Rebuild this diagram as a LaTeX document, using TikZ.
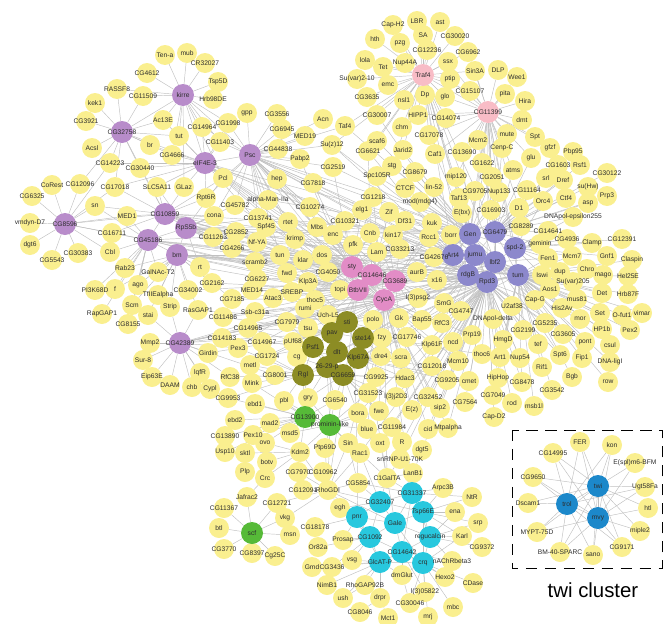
\documentclass[tikz,border=0pt]{standalone}
\usepackage{fontspec}
\setmainfont{Liberation Sans}
\usetikzlibrary{backgrounds}

\definecolor{geneyellow}{RGB}{250,239,143}
\definecolor{genetext}{RGB}{45,45,45}
\definecolor{edgegray}{RGB}{192,192,192}
\definecolor{hubpurple}{RGB}{184,140,202}
\definecolor{hubpink}{RGB}{248,188,198}
\definecolor{hubmagenta}{RGB}{226,140,198}
\definecolor{hubviolet}{RGB}{140,136,204}
\definecolor{hubolive}{RGB}{140,140,36}
\definecolor{hubgreen}{RGB}{86,186,56}
\definecolor{hubcyan}{RGB}{40,200,222}
\definecolor{hubblue}{RGB}{28,136,202}

\tikzset{
  gene/.style={circle, fill=geneyellow, minimum size=1cm, inner sep=0pt,
    text=genetext, font=\fontsize{9.5}{10}\selectfont,
    execute at begin node={\setbox0=\hbox\bgroup},
    execute at end node={\egroup\hbox to 0pt{\hss\box0\hss}}},
  hub/.style={minimum size=1.1cm},
  purplehub/.style={hub, fill=hubpurple},
  pinkhub/.style={hub, fill=hubpink},
  magentahub/.style={hub, fill=hubmagenta},
  violethub/.style={hub, fill=hubviolet},
  olivehub/.style={hub, fill=hubolive},
  greenhub/.style={hub, fill=hubgreen},
  cyanhub/.style={hub, fill=hubcyan},
  bluehub/.style={hub, fill=hubblue},
}

% all genes of the network, drawn twice: discs first, names on top
\newcommand{\allgenes}{%
    \node (Tena) at (165,55) {Ten-a}; \node (mub) at (187,53) {mub}; \node (CR32027) at (205,63) {CR32027};
    \node (CG4612) at (147,73) {CG4612}; \node (Tsp5D) at (218,82) {Tsp5D}; \node (Hrb98DE) at (213,99) {Hrb98DE};
    \node (RASSF8) at (117,89) {RASSF8}; \node (CG11509) at (143,96) {CG11509}; \node (kek1) at (95,103) {kek1};
    \node (CG3921) at (86,121) {CG3921}; \node (Ac13E) at (163,120) {Ac13E}; \node (CG14964) at (202,127) {CG14964};
    \node (tut) at (179,136) {tut}; \node (Acsl) at (92,148) {Acsl}; \node (br) at (150,145) {br};
    \node (CG4666) at (172,155) {CG4666}; \node (CG14223) at (110,163) {CG14223}; \node (CG30440) at (140,168) {CG30440};
    \node (CoRest) at (52,185) {CoRest}; \node (CG12096) at (80,184) {CG12096}; \node (CG17018) at (115,187) {CG17018};
    \node (SLC5A11) at (157,187) {SLC5A11}; \node (GLaz) at (184,187) {GLaz}; \node (CG6325) at (32,196) {CG6325};
    \node (Rpt6R) at (206,198) {Rpt6R}; \node (sn) at (95,206) {sn}; \node (CG1998) at (228,123) {CG1998};
    \node (gpp) at (247,113) {gpp}; \node (CG3556) at (277,114) {CG3556}; \node (CG6945) at (282,129) {CG6945};
    \node (MED19) at (305,136) {MED19}; \node (Acn) at (323,119) {Acn}; \node (CG11403) at (220,142) {CG11403};
    \node (CG44838) at (278,149) {CG44838}; \node (Pabp2) at (300,159) {Pabp2}; \node (Pcl) at (223,178) {Pcl};
    \node (hep) at (277,179) {hep}; \node (CG7818) at (313,183) {CG7818}; \node (alphaManIIa) at (268,200) {alpha-Man-IIa};
    \node (CG45782) at (235,205) {CG45782}; \node (CG10274) at (310,207) {CG10274}; \node (cona) at (214,216) {cona};
    \node (CG13741) at (258,218) {CG13741}; \node (rtet) at (288,222) {rtet}; \node (Spf45) at (266,227) {Spf45};
    \node (Mbs) at (317,227) {Mbs}; \node (MED1) at (127,216) {MED1}; \node (vmdynD7) at (30,223) {vmdyn-D7};
    \node (CG16711) at (112,233) {CG16711}; \node (CG11263) at (213,237) {CG11263}; \node (CG2852) at (236,232) {CG2852};
    \node (NfYA) at (257,242) {Nf-YA}; \node (dgt6) at (30,245) {dgt6}; \node (CG30383) at (78,253) {CG30383};
    \node (Cbl) at (110,252) {Cbl}; \node (CG5543) at (52,260) {CG5543}; \node (CG4266) at (232,248) {CG4266};
    \node (Rab23) at (125,268) {Rab23}; \node (GalNAcT2) at (158,272) {GalNAc-T2}; \node (rt) at (200,267) {rt};
    \node (scramb2) at (255,262) {scramb2}; \node (CG2162) at (212,283) {CG2162}; \node (CG6227) at (257,279) {CG6227};
    \node (ago) at (138,285) {ago}; \node (CG34002) at (188,290) {CG34002}; \node (PI3K68D) at (95,290) {PI3K68D};
    \node (f) at (115,289) {f}; \node (TfIIEalpha) at (158,295) {TfIIEalpha}; \node (MED14) at (252,290) {MED14};
    \node (CG7185) at (232,299) {CG7185}; \node (Scm) at (132,305) {Scm}; \node (Strip) at (170,307) {Strip};
    \node (RasGAP1) at (198,310) {RasGAP1}; \node (Ssb) at (255,312) {Ssb-c31a}; \node (RapGAP1) at (102,314) {RapGAP1};
    \node (stai) at (148,315) {stai}; \node (CG11486) at (223,317) {CG11486}; \node (CG8155) at (128,324) {CG8155};
    \node (CG14965) at (248,328) {CG14965}; \node (CG14183) at (222,338) {CG14183}; \node (CG14967) at (262,342) {CG14967};
    \node (Mmp2) at (150,343) {Mmp2}; \node (Pex3) at (238,348) {Pex3}; \node (Girdin) at (208,353) {Girdin};
    \node (CG1724) at (267,356) {CG1724}; \node (SurEight) at (143,360) {Sur-8}; \node (metl) at (250,365) {metl};
    \node (lqfR) at (200,373) {lqfR}; \node (Eip63E) at (152,377) {Eip63E}; \node (RfC38) at (230,377) {RfC38};
    \node (CG8001) at (275,375) {CG8001}; \node (Mink) at (252,383) {Mink}; \node (DAAM) at (170,385) {DAAM};
    \node (chb) at (192,387) {chb}; \node (Cypl) at (210,389) {Cypl}; \node (CG9953) at (228,398) {CG9953};
    \node (ebd1) at (255,404) {ebd1}; \node (pbl) at (284,401) {pbl}; \node (gry) at (308,398) {gry};
    \node (CG6540) at (335,400) {CG6540};
    % upper centre
    \node (CapH2) at (393,25) {Cap-H2}; \node (LBR) at (417,21) {LBR}; \node (ast) at (440,22) {ast};
    \node (hth) at (375,39) {hth}; \node (pzg) at (400,43) {pzg}; \node (SA) at (423,35) {SA};
    \node (CG12236) at (427,50) {CG12236}; \node (CG30020) at (455,36) {CG30020}; \node (CG6962) at (468,52) {CG6962};
    \node (lola) at (365,60) {lola}; \node (Tet) at (383,67) {Tet}; \node (Nup44A) at (405,63) {Nup44A};
    \node (ssx) at (448,62) {ssx}; \node (Sin3A) at (475,71) {Sin3A}; \node (DLP) at (498,70) {DLP};
    \node (Wee1) at (517,77) {Wee1}; \node (Suvar210) at (357,79) {Su(var)2-10}; \node (ptip) at (450,79) {ptip};
    \node (emc) at (388,85) {emc}; \node (CG15107) at (470,91) {CG15107}; \node (pita) at (505,94) {pita};
    \node (Dp) at (425,95) {Dp}; \node (glo) at (445,97) {glo}; \node (CG3635) at (367,97) {CG3635};
    \node (nsl1) at (404,100) {nsl1}; \node (Hira) at (525,101) {Hira}; \node (CG30007) at (377,115) {CG30007};
    \node (HIPP1) at (418,115) {HIPP1}; \node (CG14074) at (446,118) {CG14074}; \node (dmt) at (522,120) {dmt};
    \node (Taf4) at (345,126) {Taf4}; \node (chm) at (402,127) {chm}; \node (mute) at (507,134) {mute};
    \node (CG17078) at (429,135) {CG17078}; \node (Spt) at (535,137) {Spt}; \node (Mcm2) at (478,140) {Mcm2};
    \node (scaf6) at (377,141) {scaf6}; \node (Suz12) at (332,145) {Su(z)12}; \node (CenpC) at (502,148) {Cenp-C};
    \node (gfzf) at (550,148) {gfzf}; \node (CG6621) at (368,151) {CG6621}; \node (Jarid2) at (403,150) {Jarid2};
    \node (Caf1) at (435,154) {Caf1}; \node (CG13690) at (462,152) {CG13690}; \node (Pbp95) at (573,152) {Pbp95};
    \node (glu) at (531,158) {glu}; \node (CG1603) at (558,165) {CG1603}; \node (Rsf1) at (580,165) {Rsf1};
    \node (CG1622) at (482,163) {CG1622}; \node (CG2519) at (333,167) {CG2519}; \node (stg) at (392,166) {stg};
    \node (atms) at (513,170) {atms}; \node (CG8679) at (415,172) {CG8679}; \node (CG30122) at (607,173) {CG30122};
    \node (Spc105R) at (377,176) {Spc105R}; \node (mip120) at (456,177) {mip120}; \node (CG2051) at (492,177) {CG2051};
    \node (srl) at (546,178) {srl}; \node (Dref) at (563,180) {Dref}; \node (lin52) at (434,187) {lin-52};
    \node (CTCF) at (405,188) {CTCF}; \node (suHw) at (588,187) {su(Hw)}; \node (CG11164) at (527,190) {CG11164};
    \node (CG9705) at (475,191) {CG9705}; \node (Nup133) at (499,192) {Nup133}; \node (CG1218) at (373,197) {CG1218};
    \node (Prp3) at (607,196) {Prp3}; \node (Taf13) at (459,198) {Taf13}; \node (Ctf4) at (566,198) {Ctf4};
    \node (Orc4) at (543,201) {Orc4}; \node (modmdg4) at (420,202) {mod(mdg4)}; \node (asp) at (588,203) {asp};
    \node (D1) at (519,208) {D1}; \node (elg1) at (362,210) {elg1}; \node (Zif) at (389,212) {Zif};
    \node (CG16903) at (491,210) {CG16903}; \node (Ebx) at (462,213) {E(bx)}; \node (Df31) at (405,221) {Df31};
    \node (kuk) at (432,223) {kuk}; \node (CG10321) at (345,221) {CG10321}; \node (DNApoleps) at (573,217) {DNApol-epsilon255};
    \node (enc) at (333,235) {enc}; \node (Cnb) at (370,233) {Cnb}; \node (kin17) at (393,235) {kin17};
    \node (Rcc1) at (429,237) {Rcc1}; \node (pfk) at (353,245) {pfk}; \node (Lam) at (377,252) {Lam};
    \node (CG33213) at (400,249) {CG33213}; \node (CG42676) at (434,257) {CG42676}; \node (borr) at (451,235) {borr};
    \node (CG8289) at (521,226) {CG8289}; \node (CG14641) at (548,231) {CG14641}; \node (CG4936) at (567,239) {CG4936};
    \node (Clamp) at (592,243) {Clamp}; \node (CG12391) at (622,239) {CG12391}; \node (geminin) at (540,244) {geminin};
    \node (Fen1) at (548,258) {Fen1}; \node (Mcm7) at (572,256) {Mcm7}; \node (Gnf1) at (607,256) {Gnf1};
    \node (Claspin) at (632,260) {Claspin}; \node (Iswi) at (542,275) {Iswi}; \node (dup) at (560,272) {dup};
    \node (Chro) at (587,269) {Chro}; \node (mago) at (603,275) {mago}; \node (Hel25E) at (628,276) {Hel25E};
    \node (Suvar205) at (573,282) {Su(var)205}; \node (Aos1) at (550,289) {Aos1}; \node (Det) at (602,293) {Det};
    \node (Hrb87F) at (628,294) {Hrb87F}; \node (mus81) at (577,299) {mus81}; \node (CapG) at (535,300) {Cap-G};
    \node (U2af38) at (512,306) {U2af38}; \node (His2Av) at (562,308) {His2Av}; \node (Set) at (600,313) {Set};
    \node (Ofut1) at (622,315) {O-fut1}; \node (vimar) at (642,313) {vimar}; \node (CG5235) at (545,323) {CG5235};
    \node (mor) at (580,319) {mor}; \node (HP1b) at (602,329) {HP1b}; \node (Pex2) at (630,330) {Pex2};
    \node (CG2199) at (523,330) {CG2199}; \node (CG3605) at (563,334) {CG3605}; \node (tef) at (538,344) {tef};
    \node (pont) at (585,342) {pont}; \node (csul) at (610,345) {csul}; \node (Spt6) at (560,355) {Spt6};
    \node (Fip1) at (582,358) {Fip1}; \node (DNAligI) at (610,362) {DNA-ligI}; \node (Rif1) at (542,367) {Rif1};
    \node (Bgb) at (572,377) {Bgb}; \node (row) at (608,382) {row}; \node (CG3542) at (552,390) {CG3542};
    \node (msb1l) at (534,406) {msb1l}; \node (rod) at (512,403) {rod}; \node (CapD2) at (494,417) {Cap-D2};
    \node (CG7049) at (493,395) {CG7049}; \node (CG7564) at (465,402) {CG7564}; \node (CG8478) at (522,382) {CG8478};
    \node (HipHop) at (498,378) {HipHop}; \node (cmet) at (469,381) {cmet}; \node (CG9205) at (447,380) {CG9205};
    \node (Art1) at (500,357) {Art1}; \node (Nup54) at (520,358) {Nup54}; \node (HmgD) at (503,340) {HmgD};
    \node (thoc6) at (482,354) {thoc6}; \node (Mcm10) at (458,361) {Mcm10}; \node (Prp19) at (472,335) {Prp19};
    \node (ncd) at (453,342) {ncd}; \node (DNApoldelta) at (493,319) {DNApol-delta}; \node (CG4747) at (461,311) {CG4747};
    \node (SmG) at (444,303) {SmG}; \node (RfC3) at (442,323) {RfC3}; \node (lpsg2) at (418,298) {l(3)psg2};
    \node (x16) at (437,280) {x16}; \node (aurB) at (417,272) {aurB}; \node (Gk) at (399,318) {Gk};
    \node (Bap55) at (422,320) {Bap55}; \node (Klp61F) at (432,345) {Klp61F}; \node (CG17746) at (407,337) {CG17746};
    \node (fzy) at (382,338) {fzy}; \node (dre4) at (381,356) {dre4}; \node (scra) at (401,358) {scra};
    \node (CG12018) at (432,366) {CG12018}; \node (CG9925) at (376,377) {CG9925}; \node (Hdac3) at (405,378) {Hdac3};
    \node (lj2D3) at (396,397) {l(3)j2D3}; \node (CG32452) at (428,397) {CG32452}; \node (CG31523) at (368,393) {CG31523};
    \node (Ez) at (412,410) {E(z)}; \node (sip2) at (440,408) {sip2}; \node (fwe) at (379,411) {fwe};
    \node (bora) at (358,413) {bora}; \node (Mtpalpha) at (448,428) {Mtpalpha}; \node (cid) at (428,429) {cid};
    \node (CG11984) at (392,427) {CG11984}; \node (blue) at (367,429) {blue};
    % centre
    \node (CG4050) at (328,272) {CG4050}; \node (Klp3A) at (308,282) {Klp3A}; \node (topi) at (340,290) {topi};
    \node (thoc5) at (315,300) {thoc5}; \node (rumi) at (305,308) {rumi}; \node (UchL5) at (328,315) {Uch-L5};
    \node (SREBP) at (292,292) {SREBP}; \node (Atac3) at (273,298) {Atac3}; \node (fwd) at (287,273) {fwd};
    \node (tun) at (280,255) {tun}; \node (klar) at (303,260) {klar}; \node (dos) at (322,255) {dos};
    \node (krimp) at (295,239) {krimp}; \node (polo) at (373,320) {polo}; \node (CG7979) at (287,322) {CG7979};
    \node (tsu) at (308,328) {tsu}; \node (pUf68) at (293,342) {pUf68}; \node (cg) at (297,357) {cg};
    % lower
    \node (CG13890) at (225,436) {CG13890}; \node (ebd2) at (235,420) {ebd2}; \node (mad2) at (270,423) {mad2};
    \node (Pex10) at (253,435) {Pex10}; \node (msd5) at (290,433) {msd5}; \node (Usp10) at (225,452) {Usp10};
    \node (sktl) at (245,453) {sktl}; \node (ovo) at (265,443) {ovo}; \node (Kdm2) at (300,452) {Kdm2};
    \node (Ptp69D) at (325,448) {Ptp69D}; \node (Sin) at (348,443) {Sin}; \node (oxt) at (380,443) {oxt};
    \node (R) at (402,442) {R}; \node (dgt5) at (422,450) {dgt5}; \node (botv) at (267,462) {botv};
    \node (Rac1) at (360,453) {Rac1}; \node (snRNP) at (400,459) {snRNP-U1-70K}; \node (Plp) at (245,472) {Plp};
    \node (Crc) at (265,478) {Crc}; \node (CG7970) at (298,472) {CG7970}; \node (CG10962) at (323,472) {CG10962};
    \node (C1GalTA) at (387,478) {C1GalTA}; \node (LanB1) at (413,473) {LanB1}; \node (CG5854) at (358,483) {CG5854};
    \node (Jafrac2) at (247,497) {Jafrac2}; \node (CG12091) at (303,490) {CG12091}; \node (RhoGDI) at (328,490) {RhoGDI};
    \node (Arpc3B) at (443,488) {Arpc3B}; \node (CG12721) at (277,503) {CG12721}; \node (CG11367) at (224,508) {CG11367};
    \node (egh) at (340,508) {egh}; \node (NtR) at (472,497) {NtR}; \node (ena) at (455,512) {ena};
    \node (vkg) at (285,518) {vkg}; \node (CG18178) at (315,527) {CG18178}; \node (btl) at (219,528) {btl};
    \node (msn) at (290,535) {msn}; \node (Prosap) at (343,540) {Prosap}; \node (srp) at (478,523) {srp};
    \node (Karl) at (462,536) {Karl}; \node (CG3770) at (224,549) {CG3770}; \node (Or82a) at (318,547) {Or82a};
    \node (CG8397) at (252,553) {CG8397}; \node (Cg25C) at (275,556) {Cg25C}; \node (CG9372) at (482,547) {CG9372};
    \node (vsg) at (352,560) {vsg}; \node (nAChRbeta3) at (452,561) {nAChRbeta3}; \node (Gmd) at (312,567) {Gmd};
    \node (CG3436) at (332,567) {CG3436}; \node (dmGlut) at (402,575) {dmGlut}; \node (Hexo2) at (445,577) {Hexo2};
    \node (CDase) at (473,583) {CDase}; \node (NimB1) at (327,585) {NimB1}; \node (RhoGAP92B) at (365,585) {RhoGAP92B};
    \node (l305822) at (425,592) {l(3)05822}; \node (ush) at (343,598) {ush}; \node (drpr) at (380,598) {drpr};
    \node (CG30046) at (410,603) {CG30046}; \node (mbc) at (453,607) {mbc}; \node (CG8046) at (360,612) {CG8046};
    \node (Mct1) at (388,618) {Mct1}; \node (mrj) at (428,617) {mrj};
    % twi cluster
    \node (FER) at (580,442) {FER}; \node (kon) at (612,445) {kon}; \node (CG14995) at (553,453) {CG14995};
    \node (Esplm6) at (635,463) {E(spl)m6-BFM}; \node (CG9650) at (533,477) {CG9650}; \node (Ugt58Fa) at (645,487) {Ugt58Fa};
    \node (Dscam1) at (528,503) {Dscam1}; \node (htl) at (648,508) {htl}; \node (MYPT75D) at (537,532) {MYPT-75D};
    \node (miple2) at (640,531) {miple2}; \node (CG9171) at (622,547) {CG9171}; \node (BM40SPARC) at (560,552) {BM-40-SPARC};
    \node (sano) at (593,555) {sano};
    % hubs
    \node[purplehub] (kirre) at (183,95) {kirre}; \node[purplehub] (CG32758) at (122,132) {CG32758};
    \node[purplehub] (eIF4E3) at (205,163) {eIF4E-3}; \node[purplehub] (Psc) at (250,155) {Psc};
    \node[purplehub] (CG10859) at (165,214) {CG10859}; \node[purplehub] (CG8596) at (65,224) {CG8596};
    \node[purplehub] (CG45186) at (148,240) {CG45186}; \node[purplehub] (RpS5b) at (186,228) {RpS5b};
    \node[purplehub] (bm) at (177,255) {bm}; \node[purplehub] (CG42389) at (180,343) {CG42389};
    \node[pinkhub] (Traf4) at (423,75) {Traf4}; \node[pinkhub] (CG11399) at (488,112) {CG11399};
    \node[magentahub] (sty) at (352,267) {sty}; \node[magentahub] (CG14646) at (372,275) {CG14646};
    \node[magentahub] (CG3689) at (395,281) {CG3689}; \node[magentahub] (BtbVII) at (358,290) {BtbVII};
    \node[magentahub] (CycA) at (384,300) {CycA};
    \node[violethub] (Gen) at (470,234) {Gen}; \node[violethub] (CG6479) at (495,232) {CG6479};
    \node[violethub] (Art4) at (453,255) {Art4}; \node[violethub] (jumu) at (475,255) {jumu};
    \node[violethub] (spd2) at (515,248) {spd-2}; \node[violethub] (lbf2) at (495,262) {lbf2};
    \node[violethub] (rdgB) at (468,275) {rdgB}; \node[violethub] (Rpd3) at (487,282) {Rpd3};
    \node[violethub] (tum) at (518,275) {tum};
    \node[olivehub] (sti) at (347,322) {sti}; \node[olivehub] (pav) at (332,333) {pav};
    \node[olivehub] (ste14) at (363,338) {ste14}; \node[olivehub] (Psf1) at (313,347) {Psf1};
    \node[olivehub] (dlt) at (337,352) {dlt}; \node[olivehub] (Klp67A) at (358,358) {Klp67A};
    \node[olivehub] (p2629) at (327,367) {26-29-p}; \node[olivehub] (Rgl) at (303,375) {Rgl};
    \node[olivehub] (CG6659) at (343,375) {CG6659};
    \node[greenhub] (CG13900) at (305,417) {CG13900}; \node[greenhub] (prominin) at (330,425) {prominin-like};
    \node[greenhub] (scf) at (252,533) {scf};
    \node[cyanhub] (CG31337) at (412,493) {CG31337}; \node[cyanhub] (CG32407) at (380,502) {CG32407};
    \node[cyanhub] (Tsp66E) at (423,512) {Tsp66E}; \node[cyanhub] (pnr) at (357,517) {pnr};
    \node[cyanhub] (Gale) at (395,523) {Gale}; \node[cyanhub] (CG1092) at (370,537) {CG1092};
    \node[cyanhub] (regucalcin) at (430,537) {regucalcin}; \node[cyanhub] (CG14642) at (402,552) {CG14642};
    \node[cyanhub] (GlcATP) at (380,562) {GlcAT-P}; \node[cyanhub] (crq) at (423,563) {crq};
    \node[bluehub] (twi) at (598,486) {twi}; \node[bluehub] (trol) at (567,504) {trol};
    \node[bluehub] (mvy) at (598,518) {mvy};
}

\begin{document}
\begin{tikzpicture}[x=0.05cm, y=-0.05cm]
\useasboundingbox (0,0) rectangle (667,624);

\begin{scope}[every node/.style={gene, text opacity=0}]
    \allgenes
\end{scope}
\begin{scope}[every node/.style={gene, fill opacity=0, text opacity=1}]
    \allgenes
\end{scope}

\draw [line width=1.2pt, dash pattern=on 16pt off 11pt] (512,430) rectangle (662,568);
\node (twilabel) at (593,590) {\fontsize{29}{34}\selectfont twi cluster};

% interactions
\begin{scope}[on background layer, every edge/.style={draw=edgegray, line width=0.65pt}]
    \path (kirre) edge (Tena) edge (mub) edge (CR32027) edge (CG4612) edge (Tsp5D) edge (Hrb98DE) edge (CG11509)
        edge (Ac13E) edge (CG14964) edge (tut) edge (RASSF8) edge (CG32758) edge (eIF4E3) edge (GLaz) edge (CG4666)
        edge (Pcl) edge (CG1998) edge (CG11403) edge (Psc);
    \path (CG32758) edge (RASSF8) edge (kek1) edge (CG3921) edge (Acsl) edge (CG14223) edge (CG30440) edge (br)
        edge (CG11509) edge (Ac13E) edge (CG17018) edge (CG12096) edge (tut) edge (CG4666) edge (eIF4E3) edge (CG10859);
    \path (eIF4E3) edge (tut) edge (CG4666) edge (CG14964) edge (CG11403) edge (GLaz) edge (SLC5A11) edge (Pcl)
        edge (Rpt6R) edge (CG30440) edge (br) edge (Ac13E) edge (Psc) edge (CG1998) edge (CG17018) edge (CG14223)
        edge (sty) edge (CG14646) edge (CG3689) edge (BtbVII) edge (CycA) edge (Gen) edge (Art4) edge (CG4050)
        edge (Rpd3) edge (sti) edge (tum);
    \path (Psc) edge (gpp) edge (CG3556) edge (CG6945) edge (CG44838) edge (CG1998) edge (CG11403) edge (Pcl)
        edge (hep) edge (alphaManIIa) edge (CG45782) edge (MED19) edge (Pabp2) edge (CG2519) edge (CG7818)
        edge (CG13741) edge (cona) edge (Rpt6R) edge (CG14964) edge (Acn) edge (Taf4) edge (Suz12)
        edge (sty) edge (CG14646) edge (BtbVII) edge (CG3689) edge (CycA) edge (Gen) edge (CG6479) edge (Art4)
        edge (rdgB) edge (CG10274) edge (rtet) edge (Mbs) edge (Spf45) edge (krimp) edge (tun) edge (Rpd3) edge (tum);
    \path (CG8596) edge (CoRest) edge (CG12096) edge (CG6325) edge (vmdynD7) edge (dgt6) edge (CG5543)
        edge (CG30383) edge (sn) edge (CG16711) edge (MED1) edge (Cbl) edge (CG14223) edge (CG17018)
        edge (CG10859) edge (CG45186);
    \path (CG10859) edge (MED1) edge (sn) edge (CG16711) edge (SLC5A11) edge (GLaz) edge (cona) edge (RpS5b)
        edge (CG45186) edge (CG17018) edge (CG30440) edge (Rpt6R) edge (Pcl) edge (CG11263) edge (sty)
        edge (CG14646) edge (CG3689) edge (BtbVII) edge (CycA) edge (Gen) edge (Art4) edge (Rpd3);
    \path (CG45186) edge (CG16711) edge (Cbl) edge (Rab23) edge (GalNAcT2) edge (MED1) edge (sn) edge (f)
        edge (PI3K68D) edge (ago) edge (RapGAP1) edge (CG8155) edge (Scm) edge (RpS5b) edge (bm) edge (CG11263)
        edge (CG14646) edge (CycA) edge (BtbVII) edge (Rpd3) edge (rdgB) edge (tum);
    \path (RpS5b) edge (cona) edge (CG11263) edge (bm) edge (rt) edge (CG45782) edge (CG2852) edge (CG13741)
        edge (Spf45) edge (CG4266) edge (scramb2) edge (Pcl) edge (SLC5A11) edge (CycA) edge (Gen) edge (tum)
        edge (sty) edge (CG3689) edge (lbf2) edge (jumu);
    \path (bm) edge (GalNAcT2) edge (ago) edge (TfIIEalpha) edge (CG34002) edge (rt) edge (Rab23) edge (Scm)
        edge (stai) edge (Strip) edge (f) edge (CG2162) edge (RasGAP1) edge (CG7185) edge (sty) edge (CG14646)
        edge (CG3689) edge (BtbVII) edge (CycA) edge (Art4) edge (lbf2) edge (rdgB) edge (Rpd3) edge (tum);
    \path (CG42389) edge (Mmp2) edge (SurEight) edge (Eip63E) edge (DAAM) edge (chb) edge (lqfR) edge (Cypl)
        edge (Girdin) edge (RasGAP1) edge (stai) edge (Strip) edge (CG14183) edge (Pex3) edge (RfC38)
        edge (CG8001) edge (CycA) edge (CG3689) edge (pav) edge (Rpd3) edge (tum) edge (rdgB);
    \path (Traf4) edge (CapH2) edge (LBR) edge (ast) edge (hth) edge (pzg) edge (SA) edge (CG12236) edge (lola)
        edge (Tet) edge (Nup44A) edge (Suvar210) edge (emc) edge (CG3635) edge (nsl1) edge (Dp) edge (HIPP1)
        edge (ssx) edge (ptip) edge (glo) edge (CG30020) edge (CG6962) edge (CG30007) edge (chm) edge (CG17078)
        edge (Sin3A) edge (CG15107) edge (CG14074) edge (Jarid2) edge (Taf4) edge (Suz12) edge (scaf6)
        edge (CG11399) edge (Art4) edge (jumu) edge (Gen) edge (CG6479) edge (lbf2) edge (Rpd3) edge (rdgB)
        edge (CG6621) edge (stg) edge (Caf1);
    \path (CG11399) edge (Sin3A) edge (DLP) edge (Wee1) edge (pita) edge (Hira) edge (dmt) edge (CG15107)
        edge (CG6962) edge (ptip) edge (glo) edge (CG14074) edge (Mcm2) edge (mute) edge (CenpC) edge (Spt)
        edge (CG13690) edge (CG1622) edge (atms) edge (CG2051) edge (CG17078) edge (gfzf) edge (glu) edge (ssx)
        edge (Gen) edge (CG6479) edge (spd2) edge (tum) edge (jumu) edge (lbf2) edge (Rpd3) edge (Nup133)
        edge (CG9705) edge (mip120) edge (D1) edge (CG16903) edge (Caf1) edge (HIPP1);
    % violet cluster
    \path (Gen) edge (CG6479) edge (Art4) edge (jumu) edge (lbf2) edge (rdgB) edge (Rpd3) edge (spd2) edge (tum)
        edge (borr) edge (Ebx) edge (CG16903) edge (D1) edge (CG8289) edge (Taf13) edge (mip120) edge (CG9705)
        edge (Nup133) edge (CG2051) edge (CG13690) edge (CG1622) edge (kuk) edge (Rcc1) edge (Df31)
        edge (modmdg4) edge (lin52) edge (CTCF) edge (Caf1) edge (CG8679) edge (CG42676) edge (x16) edge (aurB)
        edge (CG33213) edge (Jarid2) edge (stg) edge (CG1218) edge (Spc105R) edge (Zif) edge (elg1)
        edge (sty) edge (CG14646) edge (CycA) edge (BtbVII);
    \path (CG6479) edge (jumu) edge (lbf2) edge (spd2) edge (tum) edge (CG16903) edge (D1) edge (CG8289)
        edge (CG14641) edge (geminin) edge (CG11164) edge (Orc4) edge (Ctf4) edge (DNApoleps) edge (Nup133)
        edge (CG2051) edge (atms) edge (srl) edge (Dref) edge (glu) edge (CG1603) edge (Rsf1) edge (suHw)
        edge (asp) edge (Mcm2) edge (CenpC) edge (Pbp95) edge (CG30122) edge (Prp3);
    \path (spd2) edge (tum) edge (lbf2) edge (geminin) edge (CG14641) edge (CG4936) edge (Clamp) edge (Fen1)
        edge (Mcm7) edge (CG8289) edge (DNApoleps) edge (CG12391) edge (Gnf1) edge (Iswi) edge (dup) edge (Orc4);
    \path (tum) edge (Rpd3) edge (lbf2) edge (Iswi) edge (dup) edge (Chro) edge (mago) edge (Suvar205)
        edge (Aos1) edge (CapG) edge (U2af38) edge (His2Av) edge (mus81) edge (Det) edge (Fen1) edge (Mcm7)
        edge (Claspin) edge (Hel25E) edge (Hrb87F) edge (Set) edge (Ofut1) edge (CG5235) edge (mor) edge (Bgb)
        edge (row) edge (csul) edge (DNAligI) edge (Fip1) edge (Rif1) edge (CG3542) edge (msb1l) edge (Pex2)
        edge (vimar) edge (HP1b) edge (pont) edge (CycA) edge (sti) edge (Klp67A);
    \path (Rpd3) edge (rdgB) edge (jumu) edge (Art4) edge (lbf2) edge (U2af38) edge (CapG) edge (CG4747)
        edge (DNApoldelta) edge (CG2199) edge (HmgD) edge (Prp19) edge (ncd) edge (thoc6) edge (Art1)
        edge (Nup54) edge (Mcm10) edge (SmG) edge (RfC3) edge (CG5235) edge (tef) edge (CG3605) edge (Spt6)
        edge (pont) edge (Ez) edge (sip2) edge (CG32452) edge (cid) edge (CapD2) edge (rod) edge (CG7049)
        edge (CG7564) edge (cmet) edge (CG9205) edge (HipHop) edge (CG8478) edge (Mtpalpha) edge (lj2D3)
        edge (Hdac3) edge (CG12018) edge (Klp61F) edge (CG17746) edge (sty) edge (CG14646) edge (CG3689)
        edge (BtbVII) edge (CycA) edge (sti) edge (ste14) edge (Klp67A) edge (CG6659) edge (dlt)
        edge (bora) edge (CG11984) edge (oxt) edge (R) edge (dgt5) edge (Rac1) edge (snRNP);
    \path (rdgB) edge (x16) edge (lpsg2) edge (SmG) edge (CG4747) edge (RfC3) edge (Bap55) edge (Gk)
        edge (CG3689) edge (CycA) edge (CG42676) edge (jumu) edge (Art4) edge (sty) edge (BtbVII) edge (ste14);
    \path (Art4) edge (jumu) edge (borr) edge (CG42676) edge (x16) edge (aurB) edge (kuk) edge (Rcc1)
        edge (CG33213) edge (kin17) edge (Lam) edge (CG14646) edge (CG3689) edge (sty) edge (Df31);
    \path (lbf2) edge (jumu) edge (CG4747) edge (DNApoldelta) edge (U2af38) edge (CapG) edge (Aos1) edge (Iswi)
        edge (Fen1) edge (HP1b) edge (Set) edge (Det) edge (CycA) edge (CG3689) edge (sti);
    \path (jumu) edge (borr) edge (Ebx) edge (Taf13) edge (CG42676) edge (x16) edge (lpsg2) edge (SmG);
    % pink cluster
    \path (sty) edge (CG14646) edge (BtbVII) edge (CG3689) edge (CycA) edge (CG4050) edge (dos) edge (pfk)
        edge (enc) edge (Cnb) edge (Lam) edge (CG10321) edge (klar) edge (Klp3A) edge (topi) edge (CG33213)
        edge (kin17) edge (elg1) edge (Mbs) edge (krimp);
    \path (CG14646) edge (BtbVII) edge (CG3689) edge (CycA) edge (Lam) edge (CG33213) edge (Cnb) edge (pfk)
        edge (kin17) edge (aurB) edge (CG4050) edge (topi) edge (Zif) edge (Df31);
    \path (CG3689) edge (BtbVII) edge (CycA) edge (aurB) edge (x16) edge (CG42676) edge (lpsg2) edge (Gk)
        edge (Bap55) edge (SmG) edge (CG33213) edge (Rcc1) edge (kuk);
    \path (BtbVII) edge (CycA) edge (topi) edge (thoc5) edge (Klp3A) edge (UchL5) edge (polo) edge (CG4050)
        edge (SREBP) edge (rumi) edge (sti) edge (pav) edge (fwd) edge (Atac3) edge (MED14);
    \path (CycA) edge (polo) edge (Gk) edge (fzy) edge (lpsg2) edge (Bap55) edge (sti) edge (ste14)
        edge (CG17746) edge (Klp61F) edge (RfC3) edge (dre4) edge (scra) edge (Klp67A) edge (CG7185) edge (Ssb)
        edge (CG11486) edge (CG31337) edge (Ez) edge (CG31523) edge (fwe) edge (blue) edge (cid) edge (Mtpalpha)
        edge (sip2) edge (Sin);
    % olive cluster
    \path (sti) edge (pav) edge (ste14) edge (dlt) edge (Klp67A) edge (polo) edge (UchL5) edge (thoc5) edge (fzy)
        edge (CG17746);
    \path (pav) edge (Psf1) edge (dlt) edge (ste14) edge (p2629) edge (tsu) edge (CG7979) edge (UchL5) edge (rumi);
    \path (ste14) edge (dlt) edge (Klp67A) edge (polo) edge (fzy) edge (Gk) edge (dre4) edge (scra) edge (CG17746)
        edge (Klp61F);
    \path (Psf1) edge (dlt) edge (Rgl) edge (p2629) edge (CG6659) edge (tsu) edge (pUf68) edge (cg) edge (CG7979)
        edge (CG14967) edge (CG1724) edge (CG14965);
    \path (dlt) edge (Klp67A) edge (p2629) edge (CG6659) edge (cg);
    \path (Klp67A) edge (CG6659) edge (dre4) edge (scra) edge (CG9925) edge (CG12018) edge (Hdac3);
    \path (p2629) edge (Rgl) edge (CG6659) edge (cg) edge (CG8001) edge (gry) edge (CG6540);
    \path (Rgl) edge (CG6659) edge (CG8001) edge (metl) edge (Mink) edge (pbl) edge (gry) edge (cg) edge (CG1724)
        edge (RfC38) edge (CG9953);
    \path (CG6659) edge (CG9925) edge (CG31523) edge (CG6540) edge (gry) edge (lj2D3) edge (Hdac3) edge (fwe)
        edge (bora) edge (CG11984);
    % left ring to the centre
    \path (CG2852) edge (sty) edge (Gen); \path (scramb2) edge (sty) edge (CycA); \path (CG6227) edge (CG14646) edge (Rpd3);
    \path (MED14) edge (CycA) edge (lbf2); \path (CG7185) edge (CG3689); \path (Ssb) edge (sti) edge (Rpd3);
    \path (CG11486) edge (pav) edge (CG3689); \path (CG14965) edge (CycA) edge (pav); \path (CG14183) edge (Psf1) edge (CycA);
    \path (CG14967) edge (BtbVII); \path (Pex3) edge (Rgl) edge (sty); \path (CG1724) edge (CycA);
    \path (metl) edge (sti); \path (NfYA) edge (BtbVII) edge (Art4); \path (CG4266) edge (CG14646) edge (tum);
    \path (CG13741) edge (sty) edge (Gen); \path (Spf45) edge (CG3689); \path (CG45782) edge (CycA) edge (rdgB);
    \path (alphaManIIa) edge (sty) edge (Gen); \path (hep) edge (CG14646); \path (CG7818) edge (Art4) edge (sty);
    \path (CG10274) edge (CG3689); \path (rtet) edge (CycA); \path (Mbs) edge (Gen); \path (Pabp2) edge (BtbVII);
    \path (CG2519) edge (Gen) edge (sty); \path (CG6621) edge (Art4) edge (CG14646); \path (Spc105R) edge (CG3689);
    \path (CG1218) edge (sty) edge (CycA); \path (elg1) edge (CG3689); \path (CG10321) edge (Art4); \path (enc) edge (CycA);
    \path (Taf4) edge (Gen); \path (Suz12) edge (Art4) edge (jumu); \path (CG30007) edge (jumu); \path (scaf6) edge (Gen);
    \path (tun) edge (CG14646); \path (klar) edge (CycA); \path (fwd) edge (sty); \path (Atac3) edge (CG3689);
    \path (Klp3A) edge (CycA); \path (SREBP) edge (sty); \path (CG7979) edge (BtbVII); \path (tsu) edge (CycA);
    \path (pUf68) edge (sti); \path (cg) edge (CycA);
    \path (rt) edge (CycA); \path (CG2162) edge (BtbVII); \path (CG34002) edge (CG3689); \path (RasGAP1) edge (sti);
    \path (Girdin) edge (pav);
    % right side
    \path (Prp19) edge (CycA); \path (HmgD) edge (tum); \path (Nup54) edge (Rpd3); \path (CG2199) edge (tum);
    \path (Art1) edge (tum); \path (HipHop) edge (tum); \path (CG8478) edge (tum); \path (CG7049) edge (tum);
    \path (tef) edge (Rpd3); \path (Spt6) edge (lbf2); \path (CG3605) edge (lbf2);
    \path (Mcm10) edge (CycA); \path (thoc6) edge (ste14); \path (CG12018) edge (CycA); \path (Hdac3) edge (CycA);
    \path (CG9205) edge (Klp67A); \path (cmet) edge (Klp67A); \path (CG32452) edge (CycA);
    % green
    \path (CG13900) edge (ebd1) edge (pbl) edge (mad2) edge (msd5) edge (Kdm2) edge (ebd2) edge (Pex10) edge (ovo)
        edge (CG13890) edge (gry) edge (CG6540) edge (prominin) edge (CG9953) edge (Mink) edge (Rgl) edge (Usp10);
    \path (prominin) edge (Ptp69D) edge (Kdm2) edge (Sin) edge (bora) edge (blue) edge (Rac1) edge (msd5)
        edge (pbl) edge (gry) edge (CG6540) edge (CG31523) edge (fwe) edge (p2629);
    \path (scf) edge (Jafrac2) edge (CG12721) edge (vkg) edge (msn) edge (Cg25C) edge (CG8397) edge (CG3770)
        edge (btl) edge (CG11367);
    \path (Kdm2) edge (botv) edge (Crc) edge (sktl) edge (CG7970) edge (ovo); \path (Pex10) edge (sktl) edge (Plp);
    \path (ovo) edge (botv); \path (Crc) edge (Jafrac2);
    % cyan cluster
    \path (CG31337) edge (CG32407) edge (Tsp66E) edge (Gale) edge (regucalcin) edge (CG14642) edge (C1GalTA)
        edge (LanB1) edge (Arpc3B) edge (CG5854) edge (NtR) edge (snRNP);
    \path (CG32407) edge (pnr) edge (Gale) edge (CG1092) edge (Tsp66E) edge (CG5854) edge (C1GalTA) edge (RhoGDI)
        edge (egh) edge (Rac1);
    \path (Tsp66E) edge (Gale) edge (regucalcin) edge (crq) edge (Arpc3B) edge (NtR) edge (ena) edge (srp)
        edge (Karl) edge (LanB1);
    \path (pnr) edge (CG1092) edge (Gale) edge (GlcATP) edge (RhoGDI) edge (egh) edge (Prosap) edge (CG18178)
        edge (CG5854);
    \path (Gale) edge (CG1092) edge (CG14642) edge (regucalcin) edge (RhoGDI) edge (C1GalTA) edge (crq);
    \path (CG1092) edge (GlcATP) edge (CG14642) edge (Prosap) edge (vsg) edge (Or82a) edge (CG3436) edge (egh);
    \path (regucalcin) edge (crq) edge (CG14642) edge (ena) edge (Karl) edge (CG9372) edge (srp) edge (nAChRbeta3);
    \path (CG14642) edge (GlcATP) edge (crq) edge (dmGlut) edge (Hexo2) edge (l305822) edge (nAChRbeta3);
    \path (GlcATP) edge (crq) edge (vsg) edge (dmGlut) edge (RhoGAP92B) edge (drpr) edge (NimB1) edge (ush)
        edge (CG3436) edge (Gmd);
    \path (crq) edge (nAChRbeta3) edge (Hexo2) edge (CDase) edge (l305822) edge (CG30046) edge (mrj) edge (mbc)
        edge (dmGlut) edge (Karl);
    \path (drpr) edge (Mct1) edge (CG8046); \path (dmGlut) edge (CG30046); \path (ush) edge (RhoGAP92B);
    \path (RhoGDI) edge (Rac1) edge (Ptp69D) edge (Kdm2) edge (CG10962) edge (CG7970) edge (CG12091) edge (CG5854)
        edge (egh) edge (vkg) edge (CG12721) edge (Sin) edge (BtbVII) edge (pav);
    \path (C1GalTA) edge (snRNP) edge (Rac1) edge (oxt) edge (LanB1) edge (CycA) edge (ste14);
    \path (CG5854) edge (Sin) edge (sty); \path (LanB1) edge (R) edge (dgt5);
    % twi cluster
    \path (twi) edge (trol) edge (mvy) edge (FER) edge (kon) edge (CG14995) edge (Esplm6) edge (CG9650)
        edge (Ugt58Fa) edge (htl) edge (miple2) edge (CG9171) edge (sano) edge (BM40SPARC) edge (Dscam1)
        edge (MYPT75D);
    \path (trol) edge (mvy) edge (CG9650) edge (Dscam1) edge (MYPT75D) edge (BM40SPARC) edge (sano) edge (FER)
        edge (CG14995) edge (kon) edge (Ugt58Fa) edge (CG9171);
    \path (mvy) edge (Ugt58Fa) edge (htl) edge (miple2) edge (CG9171) edge (sano) edge (BM40SPARC) edge (MYPT75D)
        edge (FER) edge (kon) edge (Esplm6) edge (CG14995) edge (CG9650);
\end{scope}
\end{tikzpicture}
\end{document}
